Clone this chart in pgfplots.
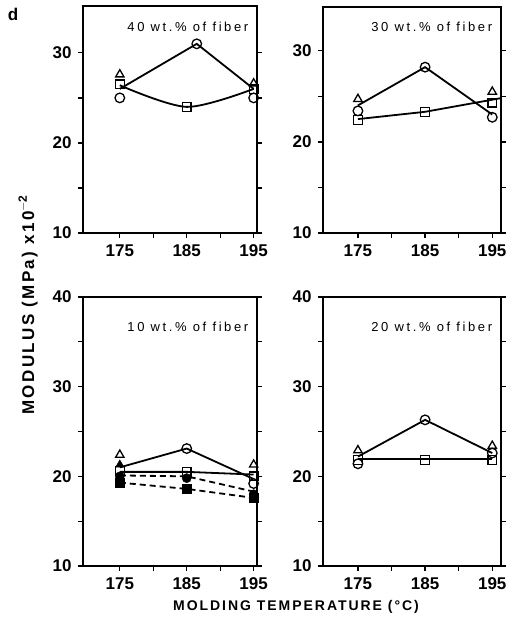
\documentclass[border=0pt]{standalone}
\usepackage{fontspec}
\setmainfont{Liberation Sans}
\newfontfamily\spaced[LetterSpace=20]{Liberation Sans}
\newfontfamily\spacedb[LetterSpace=14]{Liberation Sans}
\usepackage{pgfplots}
\pgfplotsset{compat=1.18}
\pgfplotsset{
  panel/.style={
    scale only axis,
    anchor=south west,
    axis line style={line width=1.4pt},
    every tick/.style={line width=1.3pt,black},
    major tick length=5pt, minor tick length=5pt,
    tick align=outside,
    xtick pos=bottom, ytick pos=both,
    xtick={175,185,195}, minor x tick num=1,
    minor y tick num=1,
    ymin=10,
    ticklabel style={font=\bfseries\fontsize{17}{17}\selectfont},
    /pgf/number format/assume math mode=true,
    /pgf/number format/set thousands separator={},
    xticklabel style={yshift=-3pt},
    yticklabel style={xshift=-3pt},
    clip=false,
  },
  oc/.style={only marks, mark=o, mark size=4.8pt, mark options={line width=1.3pt, fill=white}},
  os/.style={only marks, mark=square, mark size=4.4pt, mark options={line width=1.3pt, fill=white}},
  ot/.style={only marks, mark=triangle, mark size=4.8pt, mark options={line width=1.3pt, fill=white}},
  fc/.style={only marks, mark=*, mark size=4.6pt},
  fs/.style={only marks, mark=square*, mark size=4.2pt},
  ft/.style={only marks, mark=triangle*, mark size=4.8pt},
  ln/.style={no marks, line width=1.8pt, black},
  dl/.style={no marks, line width=1.8pt, black, dash pattern=on 6pt off 4pt},
}
\begin{document}
\begin{tikzpicture}
\path[use as bounding box] (0pt,0pt) rectangle (509pt,-627pt);
\node[font=\bfseries\fontsize{17}{17}\selectfont] at (13pt,-14pt) {d};

% ---------- 40 wt.% (top left)
\begin{axis}[panel, at={(83pt,-233pt)}, width=174pt, height=227pt,
  xmin=169.5, xmax=195.5, ymax=35.2, ytick={10,20,30}]
\addplot[ln] coordinates {(175,26.0) (186.5,31.0) (195,26.0)};
\addplot[ln, smooth] coordinates {(175,26.4) (185,24.0) (195,26.0)};
\addplot[ot] coordinates {(175,27.6) (195,26.6)};
\addplot[os] coordinates {(175,26.5) (185,24.0) (195,26.0)};
\addplot[oc] coordinates {(175,25.0) (186.5,31.0) (195,25.0)};
\node[anchor=east, font=\spaced\fontsize{13}{13}\selectfont] at (rel axis cs:0.97,0.91) {40 wt.\% of fiber};
\end{axis}

% ---------- 30 wt.% (top right)
\begin{axis}[panel, at={(323pt,-233pt)}, width=178pt, height=226pt,
  xmin=169.8, xmax=196.3, ymax=34.8, ytick={10,20,30}]
\addplot[ln] coordinates {(175,24.0) (185,28.2) (195,23.0)};
\addplot[ln] coordinates {(175,22.5) (185,23.3) (196.3,24.8)};
\addplot[ot] coordinates {(175,24.7) (195,25.5)};
\addplot[os] coordinates {(175,22.4) (185,23.3) (195,24.3)};
\addplot[oc] coordinates {(175,23.4) (185,28.2) (195,22.7)};
\node[anchor=east, font=\spaced\fontsize{13}{13}\selectfont] at (rel axis cs:0.97,0.91) {30 wt.\% of fiber};
\end{axis}

% ---------- 10 wt.% (bottom left)
\begin{axis}[panel, at={(83pt,-566pt)}, width=174pt, height=269pt,
  xmin=169.5, xmax=195.5, ymax=40, ytick={10,20,30,40}]
\addplot[ln] coordinates {(175,21.0) (185,23.1) (195,19.7)};
\addplot[ln] coordinates {(175,20.5) (185,20.5) (195,20.2)};
\addplot[dl] coordinates {(175,20.1) (185,20.0) (195,18.3)};
\addplot[dl] coordinates {(175,19.3) (185,18.6) (195,17.6)};
\addplot[ot] coordinates {(175,22.4) (195,21.3)};
\addplot[ft] coordinates {(175,21.3)};
\addplot[fs] coordinates {(175,19.3) (185,18.6) (195,17.6)};
\addplot[fc] coordinates {(175,20.0) (185,19.8) (195,18.0)};
\addplot[os] coordinates {(175,20.6) (185,20.5) (195,20.0)};
\addplot[oc] coordinates {(185,23.1) (195,19.2)};
\node[anchor=east, font=\spaced\fontsize{13}{13}\selectfont] at (rel axis cs:0.97,0.89) {10 wt.\% of fiber};
\end{axis}

% ---------- 20 wt.% (bottom right)
\begin{axis}[panel, at={(323pt,-566pt)}, width=178pt, height=269pt,
  xmin=169.8, xmax=196.3, ymax=40, ytick={10,20,30,40}]
\addplot[ln] coordinates {(175,22.2) (185,26.3) (195,22.6)};
\addplot[ln] coordinates {(175,21.9) (185,21.9) (195,21.9)};
\addplot[ot] coordinates {(175,22.9) (195,23.4)};
\addplot[os] coordinates {(175,21.8) (185,21.8) (195,21.8)};
\addplot[oc] coordinates {(175,21.4) (185,26.3) (195,22.6)};
\node[anchor=east, font=\spaced\fontsize{13}{13}\selectfont] at (rel axis cs:0.97,0.89) {20 wt.\% of fiber};
\end{axis}

\node[rotate=90, font=\spacedb\bfseries\fontsize{17}{17}\selectfont] at (28pt,-305pt) {MODULUS (MPa) x10\raisebox{0.8ex}{\fontsize{12}{12}\selectfont $-$2}};
\node[font=\spacedb\bfseries\fontsize{14}{14}\selectfont] at (296pt,-607pt) {MOLDING TEMPERATURE (°C)};
\end{tikzpicture}
\end{document}
